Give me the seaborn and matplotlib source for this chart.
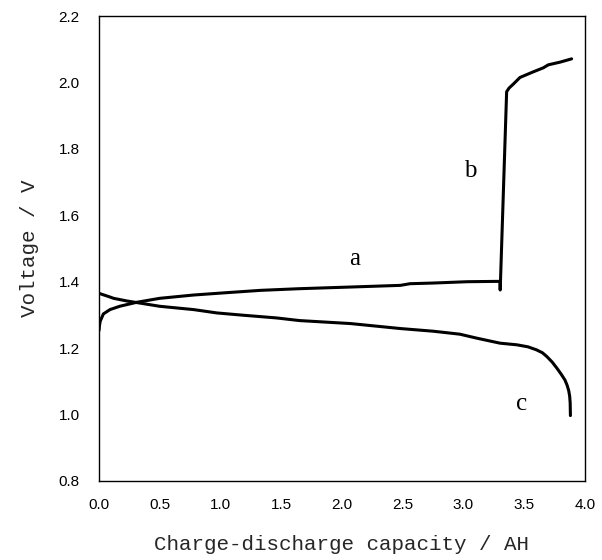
import matplotlib
matplotlib.use("Agg")
import matplotlib.pyplot as plt
import seaborn as sns
import pandas as pd

# Charge curve (a -> b)
charge_x = [0.0, 0.004, 0.01, 0.036, 0.09, 0.17, 0.31, 0.5, 0.78, 1.05, 1.33, 1.65,
            2.07, 2.48, 2.56, 2.75, 3.03, 3.27, 3.30, 3.302, 3.355, 3.375, 3.41,
            3.465, 3.575, 3.657, 3.698, 3.794, 3.89]
charge_y = [1.253, 1.268, 1.281, 1.303, 1.316, 1.326, 1.338, 1.350, 1.360, 1.367,
            1.374, 1.379, 1.384, 1.389, 1.394, 1.396, 1.400, 1.401, 1.401, 1.375,
            1.972, 1.983, 1.995, 2.015, 2.032, 2.044, 2.053, 2.061, 2.071]

# Discharge curve (c)
dis_x = [0.0, 0.09, 0.12, 0.23, 0.5, 0.78, 0.97, 1.19, 1.46, 1.65, 2.07, 2.48,
         2.75, 2.97, 3.11, 3.30, 3.44, 3.53, 3.60, 3.65, 3.685, 3.73, 3.77, 3.805,
         3.835, 3.853, 3.866, 3.874, 3.878, 3.88]
dis_y = [1.365, 1.354, 1.350, 1.342, 1.326, 1.316, 1.306, 1.299, 1.291, 1.283,
         1.274, 1.259, 1.251, 1.242, 1.230, 1.215, 1.210, 1.204, 1.195, 1.186,
         1.175, 1.158, 1.139, 1.121, 1.104, 1.088, 1.072, 1.055, 1.035, 0.997]

curve_labels = ["a", "b", "c"]
label_x = [2.10, 3.06, 3.48]
label_y = [1.468, 1.733, 1.033]

x_ticks = [0.0, 0.5, 1.0, 1.5, 2.0, 2.5, 3.0, 3.5, 4.0]
y_ticks = [0.8, 1.0, 1.2, 1.4, 1.6, 1.8, 2.0, 2.2]

sns.set_theme(style="white")
plt.rcParams['font.family'] = ['Liberation Sans', 'DejaVu Sans']

fig = plt.figure(figsize=(6.02, 5.60), dpi=100)
ax = fig.add_axes([99/602, 1 - 481/560, (585 - 99)/602, (481 - 16)/560])

df_c = pd.DataFrame({"x": charge_x, "y": charge_y})
df_d = pd.DataFrame({"x": dis_x, "y": dis_y})
sns.lineplot(data=df_c, x="x", y="y", sort=False, estimator=None, ax=ax,
             color="black", linewidth=2.2)
sns.lineplot(data=df_d, x="x", y="y", sort=False, estimator=None, ax=ax,
             color="black", linewidth=2.2)

for t, lx, ly in zip(curve_labels, label_x, label_y):
    ax.text(lx, ly, t, ha="center", va="center", fontsize=18,
            family=["Liberation Serif", "DejaVu Serif"], color="black")

ax.set_xlim(0, 4.0)
ax.set_ylim(0.8, 2.2)
ax.set_xticks(x_ticks)
ax.set_yticks(y_ticks)
ax.set_xticklabels([f"{v:.1f}" for v in x_ticks])
ax.set_yticklabels([f"{v:.1f}" for v in y_ticks])
ax.tick_params(axis="both", direction="in", length=4, width=0.8, color="#555555",
               labelsize=11, labelcolor="black")
ax.tick_params(axis="x", pad=12)
ax.tick_params(axis="y", pad=14)

for s in ax.spines.values():
    s.set_visible(True)
    s.set_color("black")
    s.set_linewidth(1.0)

ax.set_xlabel("Charge-discharge capacity / AH", fontsize=15,
              family=["Liberation Mono", "DejaVu Sans Mono"], labelpad=17)
ax.set_ylabel("Voltage / V", fontsize=15,
              family=["Liberation Mono", "DejaVu Sans Mono"], labelpad=14)

fig.savefig("out.png", dpi=100)
